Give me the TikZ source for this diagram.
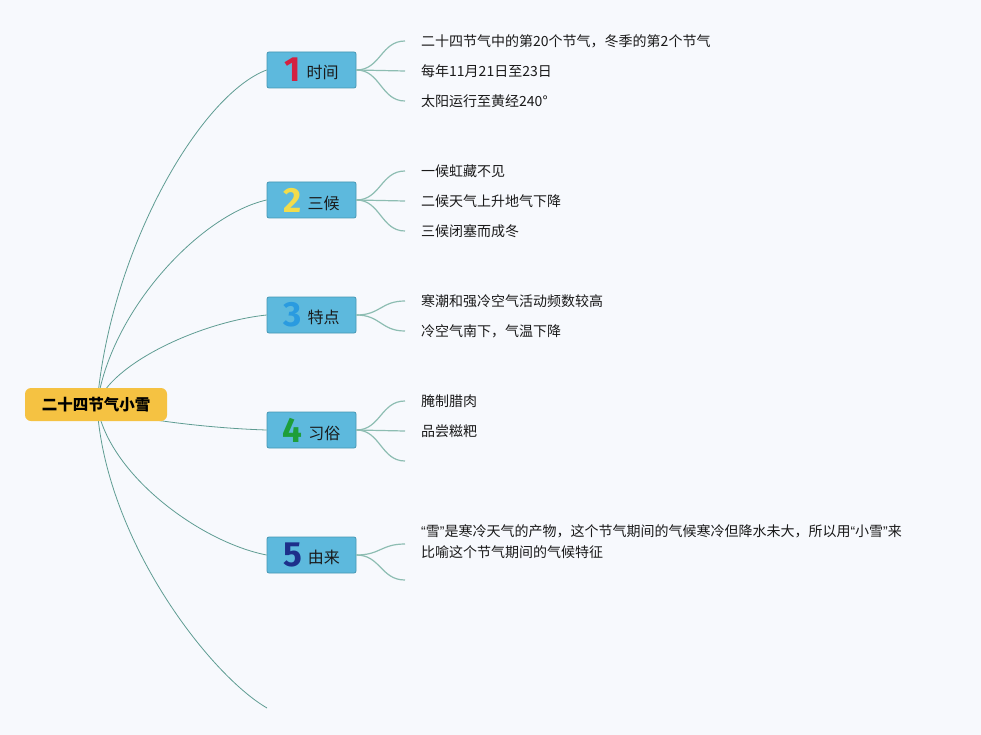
\documentclass[tikz,border=0pt]{standalone}
\usepackage{fontspec}
\newfontfamily\cjk{Noto Sans CJK SC}
\newfontfamily\digfont{Fira Sans}
\newfontfamily\latin{Liberation Sans}
\definecolor{bgc}{HTML}{F7F9FD}
\definecolor{rootfill}{HTML}{F5C242}
\definecolor{brfill}{HTML}{5DB9DD}
\definecolor{brdraw}{HTML}{4597B3}
\definecolor{rootln}{HTML}{5E9C92}
\definecolor{childln}{HTML}{8DBDB2}
\definecolor{txt}{HTML}{1A1A1A}
\definecolor{dA}{HTML}{D42140}
\definecolor{dB}{HTML}{F2DC4B}
\definecolor{dC}{HTML}{2A9BE0}
\definecolor{dD}{HTML}{1E9E3A}
\definecolor{dE}{HTML}{1D2F8A}
\tikzset{
  rootbox/.style={draw=none, fill=rootfill, rounded corners=6pt, minimum width=142pt, minimum height=33pt, inner sep=0pt,
    font=\cjk\bfseries\fontsize{15.5}{18}\selectfont, text=black},
  brbox/.style={draw=brdraw, line width=0.8pt, fill=brfill, rounded corners=2pt, minimum width=89pt, minimum height=36pt, inner sep=0pt,
    font=\cjk\fontsize{16}{18}\selectfont, text=txt},
  leaf/.style={anchor=west, inner sep=0pt, font=\cjk\fontsize{14}{21}\selectfont, text=txt, align=left},
  rootcurve/.style={draw=rootln, line width=0.8pt},
  childcurve/.style={draw=childln, line width=1.2pt},
}
\newcommand{\dig}[3]{\raisebox{-1pt}{\digfont\bfseries\fontsize{35}{35}\selectfont\color{#1}#2}\hspace{6pt}\raisebox{2pt}{#3}}
\newcommand{\q}[1]{{\latin #1}}
\begin{document}
\begin{tikzpicture}[x=1pt,y=-1pt]
\useasboundingbox (0,0) rectangle (981,735);
\fill[bgc] (0,0) rectangle (981,735);

% branch nodes
\node[brbox] (b1) at (311.5,70) {\dig{dA}{1}{时间}};
\node[brbox] (b2) at (311.5,200) {\dig{dB}{2}{三候}};
\node[brbox] (b3) at (311.5,315) {\dig{dC}{3}{特点}};
\node[brbox] (b4) at (311.5,430) {\dig{dD}{4}{习俗}};
\node[brbox] (b5) at (311.5,555) {\dig{dE}{5}{由来}};
\coordinate (e6) at (267,708);

% root curves (drawn before root so root covers them)
\coordinate (rc) at (97,405);
\draw[rootcurve] (rc) .. controls (110,250) and (200,95) .. (b1.west);
\draw[rootcurve] (rc) .. controls (110,311) and (200,215) .. (b2.west);
\draw[rootcurve] (rc) .. controls (110,364) and (200,322) .. (b3.west);
\draw[rootcurve] (rc) .. controls (110,416) and (200,428) .. (b4.west);
\draw[rootcurve] (rc) .. controls (108,474) and (200,542) .. (b5.west);
\draw[rootcurve] (rc) .. controls (105,540) and (210,675) .. (e6);

\node[rootbox] (root) at (96,404.5) {二十四节气小雪};

% leaves
\node[leaf] (l11) at (421,41) {二十四节气中的第20个节气，冬季的第2个节气};
\node[leaf] (l12) at (421,71) {每年11月21日至23日};
\node[leaf] (l13) at (421,101) {太阳运行至黄经240°};
\node[leaf] (l21) at (421,171) {一候虹藏不见};
\node[leaf] (l22) at (421,201) {二候天气上升地气下降};
\node[leaf] (l23) at (421,231) {三候闭塞而成冬};
\node[leaf] (l31) at (421,301) {寒潮和强冷空气活动频数较高};
\node[leaf] (l32) at (421,331) {冷空气南下，气温下降};
\node[leaf] (l41) at (421,401) {腌制腊肉};
\node[leaf] (l42) at (421,431) {品尝糍粑};
\coordinate (l43) at (421,461);
\node[leaf] (l51) at (421,542) {\q{“}雪\q{”}是寒冷天气的产物，这个节气期间的气候寒冷但降水未大，所以用\q{“}小雪\q{”}来\\比喻这个节气期间的气候特征};
\coordinate (l52) at (421,580);

% child curves
\foreach \b/\l in {b1/l11,b1/l12,b1/l13,b2/l21,b2/l22,b2/l23,b3/l31,b3/l32,b4/l41,b4/l42,b4/l43,b5/l52}{
  \draw[childcurve] (\b.east) .. controls +(24,0) and +(-24,0) .. ([xshift=-16pt]\l.west);
}
\draw[childcurve] (b5.east) .. controls +(24,0) and +(-24,0) .. ([xshift=-16pt,yshift=-2pt]l51.west);
\end{tikzpicture}
\end{document}
